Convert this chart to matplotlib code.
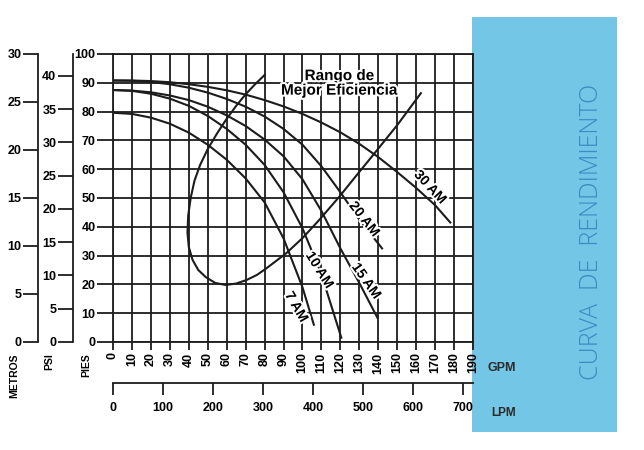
import matplotlib
matplotlib.use('Agg')
import matplotlib.pyplot as plt
import matplotlib.patheffects as pe
from matplotlib.patches import Rectangle

plt.rcParams['font.family'] = ['Liberation Sans', 'DejaVu Sans']

# curvas de la bomba: caudal (GPM) vs altura (pies)
gpm_30 = [0, 10, 20, 30, 40, 50, 60, 70, 80, 90, 100, 110, 120, 130, 140, 150, 160, 170, 178]
pies_30 = [90.8, 90.8, 90.6, 90.2, 89.5, 88.6, 87.4, 85.9, 84.0, 81.8, 79.2, 76.2, 72.8, 68.8, 64.2, 59.0, 53.5, 47.5, 41.5]

gpm_20 = [0, 10, 20, 30, 40, 50, 60, 70, 80, 90, 100, 110, 120, 130, 142]
pies_20 = [90.8, 90.7, 90.3, 89.5, 88.3, 86.6, 84.4, 81.7, 78.3, 74.0, 68.5, 61.0, 52.0, 42.5, 32.5]

gpm_15 = [0, 10, 20, 30, 40, 50, 60, 70, 80, 90, 100, 110, 120, 130, 139.5]
pies_15 = [87.5, 87.3, 86.7, 85.6, 84.0, 81.7, 78.7, 75.0, 70.3, 64.5, 56.5, 45.5, 32.5, 20.5, 8.5]

gpm_10 = [0, 10, 20, 30, 40, 50, 60, 70, 80, 90, 100, 110, 120.5]
pies_10 = [87.5, 87.2, 86.2, 84.5, 82.0, 78.5, 74.0, 68.5, 61.5, 52.0, 39.5, 23.5, 1.5]

gpm_7 = [0, 10, 20, 30, 40, 50, 60, 70, 80, 90, 100, 106]
pies_7 = [79.6, 79.2, 77.9, 75.8, 72.7, 68.5, 63.3, 56.8, 48.5, 36.0, 19.0, 6.0]

# rango de mejor eficiencia (lazo)
eff_gpm = [80, 75, 70, 65, 60, 55, 50, 46, 43, 41, 39.7, 39.3, 40, 42, 45, 49, 54, 59.5,
           65, 70.4, 76, 81, 91.4, 100.2, 109, 119.5, 128.2, 137, 150, 162.5]
eff_pies = [92.7, 89.5, 86, 82, 77.5, 72.5, 67, 61.5, 56, 50, 44, 38, 33, 28.5, 25, 22.5, 20.5, 19.8,
            20.3, 21.5, 23.3, 25.6, 30.8, 36.2, 42.5, 50.5, 57.6, 64.7, 75.3, 86.4]

labels = ['30 AM', '20 AM', '15 AM', '10 AM', '7 AM']
lab_x = [167.4, 132.6, 133.7, 109, 96.8]
lab_y = [53.8, 42.7, 21.2, 25, 12.2]
lab_rot = [-47, -52, -55, -58, -60]

gpm_ticks = list(range(0, 191, 10))
pies_ticks = list(range(0, 101, 10))
psi_ticks = list(range(0, 41, 5))
metros_ticks = list(range(0, 31, 5))
lpm_ticks = list(range(0, 701, 100))

W, H = 644, 450
ink = '#1c1c1c'
lw = 1.3
fs = 9


def box(x0, y0, x1, y1):
    return [x0 / W, 1 - y1 / H, (x1 - x0) / W, (y1 - y0) / H]


fig = plt.figure(figsize=(W / 100, H / 100), dpi=100)

# panel azul
fig.add_artist(Rectangle((472 / W, 1 - 432 / H), 145 / W, 415 / H, transform=fig.transFigure,
                         facecolor='#73c6e5', edgecolor='none', zorder=-5))
fig.text(592 / W, 1 - 232 / H, 'CURVA  DE  RENDIMIENTO', rotation=90, ha='center', va='center',
         fontsize=18, color='#3a8cc2', family=['Open Sans', 'DejaVu Sans'], fontweight='light')

ax = fig.add_axes(box(113, 54, 473, 342))
ax.set_facecolor('none')
ax.set_xlim(0, 190)
ax.set_ylim(0, 100)
ax.set_xticks(gpm_ticks)
ax.set_yticks(pies_ticks)
ax.set_xticklabels([str(t) for t in gpm_ticks], rotation=90, fontsize=fs, fontweight='bold')
ax.set_yticklabels([str(t) for t in pies_ticks], fontsize=fs, fontweight='bold')
ax.grid(True, color=ink, lw=lw)
for s in ax.spines.values():
    s.set_color(ink)
    s.set_linewidth(lw)
ax.tick_params(axis='y', direction='out', length=11.5, width=lw, color=ink, pad=1)
ax.tick_params(axis='x', direction='out', length=6, width=lw, color=ink, pad=1.5)

for g, p in [(gpm_30, pies_30), (gpm_20, pies_20), (gpm_15, pies_15), (gpm_10, pies_10), (gpm_7, pies_7)]:
    ax.plot(g, p, color=ink, lw=1.5, solid_joinstyle='round', zorder=3)
ax.plot(eff_gpm, eff_pies, color=ink, lw=1.5, solid_joinstyle='round', zorder=3)

halo = [pe.withStroke(linewidth=3, foreground='white')]
for txt, x, y, r in zip(labels, lab_x, lab_y, lab_rot):
    ax.text(x, y, txt, rotation=r, ha='center', va='center', fontsize=10, fontweight='bold',
            color='black', path_effects=halo, zorder=5, rotation_mode='anchor')
ax.text(119.5, 89.8, 'Rango de\nMejor Eficiencia', ha='center', va='center', fontsize=11,
        fontweight='bold', linespacing=1.05, path_effects=halo, zorder=5)

# eje PSI
ax_psi = fig.add_axes(box(73, 54, 74, 342))
ax_psi.set_ylim(0, 100 / 2.31)
ax_psi.set_yticks(psi_ticks)
ax_psi.set_yticklabels([str(t) for t in psi_ticks], fontsize=fs, fontweight='bold')
ax_psi.set_xticks([])
# eje METROS
ax_m = fig.add_axes(box(38, 54, 39, 342))
ax_m.set_ylim(0, 30)
ax_m.set_yticks(metros_ticks)
ax_m.set_yticklabels([str(t) for t in metros_ticks], fontsize=fs, fontweight='bold')
ax_m.set_xticks([])
for a in (ax_psi, ax_m):
    a.set_facecolor('none')
    for k in ('top', 'right', 'bottom'):
        a.spines[k].set_visible(False)
    a.spines['left'].set_color(ink)
    a.spines['left'].set_linewidth(lw)
    a.tick_params(axis='y', direction='out', length=11, width=lw, color=ink, pad=1)

# eje LPM
ax_l = fig.add_axes(box(113, 382, 473, 383))
ax_l.set_facecolor('none')
ax_l.set_xlim(0, 190 * 3.785)
ax_l.set_xticks(lpm_ticks)
ax_l.set_xticklabels([str(t) for t in lpm_ticks], fontsize=fs, fontweight='bold')
ax_l.set_yticks([])
for k in ('top', 'right', 'left'):
    ax_l.spines[k].set_visible(False)
ax_l.spines['bottom'].set_color(ink)
ax_l.spines['bottom'].set_linewidth(lw)
ax_l.tick_params(axis='x', direction='out', length=8.6, width=lw, color=ink, pad=5)

for x, t in [(14, 'METROS'), (49, 'PSI'), (86, 'PIES')]:
    fig.text(x / W, 1 - 353 / H, t, rotation=90, ha='center', va='top', fontsize=7.5, fontweight='bold')
fig.text(487 / W, 1 - 368 / H, 'GPM', ha='left', va='center', fontsize=9, fontweight='bold', color='#2a2a2a')
fig.text(491 / W, 1 - 413 / H, 'LPM', ha='left', va='center', fontsize=8.5, fontweight='bold', color='#2a2a2a')

fig.savefig('out.png', dpi=100)
